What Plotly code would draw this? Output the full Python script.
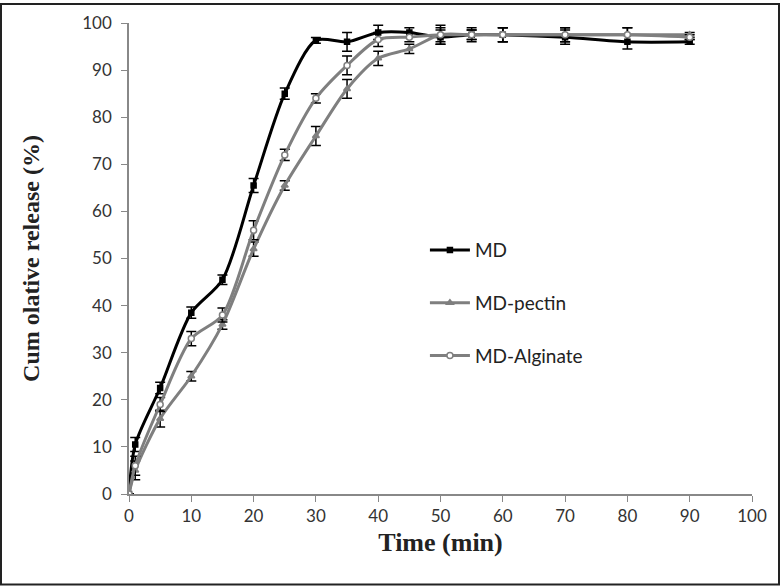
import plotly.graph_objects as go

time = [0, 1, 5, 10, 15, 20, 25, 30, 35, 40, 45, 50, 55, 60, 70, 80, 90]
md = [0, 10.5, 22.5, 38.5, 45.5, 65.5, 85, 96.3, 96, 98, 98, 97, 97.5, 97.5, 97, 96, 96]
md_err = [0, 1.5, 1.2, 1.2, 1.0, 1.5, 1.2, 0.6, 2.0, 1.5, 1.0, 1.5, 1.0, 1.5, 1.5, 1.5, 0.5]
pectin = [0, 5, 16, 25, 36, 52, 65.5, 76, 86, 92.5, 94.5, 97.5, 97.5, 97.5, 97.5, 97.5, 97.5]
pectin_err = [0, 2, 1.8, 1.0, 1.0, 1.5, 1.0, 2.0, 2.0, 1.5, 1.0, 1.5, 1.0, 1.5, 1.5, 1.5, 0.5]
alginate = [0, 6, 19, 33, 38, 56, 72, 84, 91, 96.5, 97, 97.5, 97.5, 97.5, 97.5, 97.5, 97]
alginate_err = [0, 2, 1.5, 1.5, 1.5, 2.0, 1.2, 1.0, 2.0, 1.5, 1.0, 2.0, 1.5, 1.5, 1.5, 1.5, 0.5]

series = [
    ("MD", md, md_err, "black", "square", "black", "black", 5),
    ("MD-pectin", pectin, pectin_err, "#7f7f7f", "triangle-up", "#7f7f7f", "#7f7f7f", 6),
    ("MD-Alginate", alginate, alginate_err, "#7f7f7f", "circle", "white", "#7f7f7f", 6),
]

fig = go.Figure()
for i, (name, y, err, lc, sym, mfill, mline, msize) in enumerate(series):
    fig.add_trace(go.Scatter(
        x=time, y=y, name=name, mode="lines+markers",
        line=dict(color=lc, width=3, shape="spline", smoothing=0.8),
        marker=dict(symbol=sym, size=msize, color=mfill, line=dict(color=mline, width=1.5)),
        error_y=dict(type="data", array=err, visible=True, color="black", thickness=1.5, width=5),
        legendgroup="g%d" % i,
    ))

L, T, PW, PH = 129, 20, 623, 474
border = dict(type="rect", xref="paper", yref="paper",
              x0=-(L - 1) / PW, x1=(779 - L) / PW, y0=-(585 - (T + PH)) / PH, y1=(T + PH - 1) / PH,
              line=dict(color="#222222", width=2), fillcolor="rgba(0,0,0,0)", layer="below")

fig.update_layout(
    width=780, height=586,
    margin=dict(l=L, r=780 - L - PW, t=T, b=586 - T - PH),
    paper_bgcolor="white", plot_bgcolor="white",
    shapes=[border],
    showlegend=True,
    legend=dict(x=0.475, y=0.558, xanchor="left", yanchor="top",
                font=dict(family="Lato, Carlito, sans-serif", size=19, color="#222"),
                tracegroupgap=25, bgcolor="rgba(0,0,0,0)", itemwidth=40),
    xaxis=dict(range=[0, 100], tickvals=list(range(0, 101, 10)), showgrid=False, zeroline=False,
               showline=True, linecolor="#888", linewidth=1.5, ticks="outside", ticklen=6, tickcolor="#888",
               tickfont=dict(family="Lato, sans-serif", size=17, color="#333"),
               title=dict(text="<b>Time (min)</b>", font=dict(family="Liberation Serif, Times New Roman, serif", size=26, color="#222"), standoff=8)),
    yaxis=dict(range=[0, 100], tickvals=list(range(0, 101, 10)), showgrid=False, zeroline=False,
               showline=True, linecolor="#888", linewidth=1.5, ticks="outside", ticklen=6, tickcolor="#888",
               ticklabelstandoff=6,
               tickfont=dict(family="Lato, sans-serif", size=17, color="#333"),
               title=dict(text="<b>Cum olative release (%)</b>", font=dict(family="Liberation Serif, Times New Roman, serif", size=24, color="#222"), standoff=36)),
)

fig.write_html("out.html", post_script="document.body.style.margin='0';",
               config={"displayModeBar": False})
